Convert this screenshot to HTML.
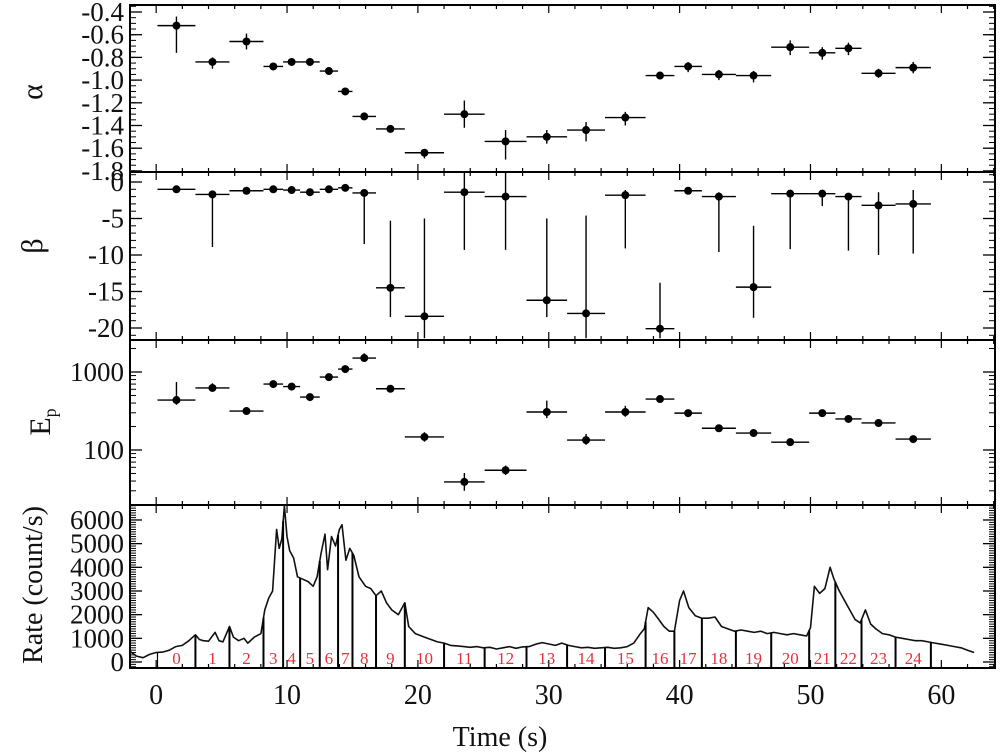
<!DOCTYPE html>
<html><head><meta charset="utf-8"><style>
html,body{margin:0;padding:0;background:#fff;}
svg{display:block;font-family:"Liberation Serif",serif;}
</style></head><body>
<svg id="chart" width="1000" height="756" viewBox="0 0 1000 756" xmlns="http://www.w3.org/2000/svg"></svg>
<script>
// ---- data ----
const binEdges = [0.1,3.0,5.6,8.2,9.7,11.0,12.5,13.9,15.0,16.8,19.0,22.0,25.1,28.3,31.4,34.3,37.4,39.6,41.7,44.3,47.0,49.9,51.9,53.9,56.5,59.2];
const alphaVals = [-0.52,-0.84,-0.66,-0.88,-0.84,-0.84,-0.92,-1.10,-1.32,-1.43,-1.64,-1.30,-1.54,-1.50,-1.44,-1.33,-0.96,-0.88,-0.95,-0.96,-0.71,-0.76,-0.72,-0.94,-0.89];
const alphaErrLo = [0.24,0.06,0.07,0.03,0.03,0.03,0.03,0.03,0.03,0.03,0.05,0.12,0.16,0.06,0.10,0.07,0.03,0.05,0.05,0.06,0.07,0.06,0.06,0.04,0.05];
const alphaErrHi = [0.08,0.04,0.07,0.03,0.03,0.03,0.03,0.03,0.03,0.03,0.03,0.12,0.10,0.06,0.07,0.05,0.03,0.04,0.04,0.04,0.06,0.05,0.05,0.04,0.05];
const betaVals = [-1.0,-1.7,-1.2,-1.0,-1.1,-1.4,-1.0,-0.8,-1.5,-14.5,-18.4,-1.4,-2.0,-16.2,-18.0,-1.8,-20.1,-1.2,-2.0,-14.4,-1.6,-1.6,-2.0,-3.2,-3.0];
const betaLow = [-1.3,-8.9,-1.5,-1.3,-1.4,-1.7,-1.3,-1.1,-8.5,-18.5,-21.4,-9.3,-9.3,-18.5,-21.4,-9.1,-21.4,-1.5,-9.6,-18.6,-9.2,-3.3,-9.4,-10.0,-9.8];
const betaHigh = [-0.7,-1.4,-0.9,-0.7,-0.8,-1.1,-0.7,-0.5,-1.2,-5.3,-5.0,1.4,1.4,-5.0,-4.6,-1.1,-13.8,-0.9,-1.4,-6.0,-1.3,-1.2,-1.6,-1.4,-1.1];
const epVals = [437,624,316,700,650,477,860,1090,1510,610,147,39,55,307,134,307,450,297,190,165,126,297,250,222,138];
const epErrLoF = [1.15,1.1,1.08,1.05,1.05,1.05,1.05,1.06,1.12,1.08,1.15,1.3,1.15,1.2,1.15,1.15,1.05,1.06,1.05,1.05,1.05,1.08,1.05,1.05,1.05];
const epErrHiF = [1.7,1.15,1.08,1.05,1.05,1.05,1.05,1.06,1.15,1.08,1.15,1.3,1.15,1.4,1.2,1.2,1.05,1.06,1.05,1.05,1.05,1.08,1.05,1.05,1.05];
const lcTimes = [-2.0,-1.5,-1.0,-0.5,0.0,0.5,1.0,1.5,2.0,2.5,3.0,3.3,3.6,4.0,4.5,4.8,5.1,5.6,5.9,6.3,6.7,7.0,7.5,8.0,8.3,8.6,8.9,9.2,9.4,9.6,9.8,10.0,10.2,10.5,10.8,11.2,11.6,12.0,12.3,12.6,12.9,13.1,13.4,13.7,14.0,14.2,14.5,14.8,15.1,15.5,16.0,16.4,16.8,17.2,17.6,18.0,18.5,19.0,19.3,19.8,20.5,21.0,21.5,22.0,22.5,23.0,23.5,24.0,24.5,25.0,25.5,26.0,26.5,27.0,27.5,28.0,28.5,29.0,29.5,30.0,30.5,31.0,31.5,32.0,32.5,33.0,33.5,34.0,34.5,35.0,35.5,36.0,36.5,37.0,37.3,37.6,38.0,38.4,38.8,39.2,39.6,40.0,40.3,40.7,41.2,41.7,42.2,42.7,43.2,43.7,44.2,44.7,45.2,45.7,46.2,46.7,47.2,47.7,48.2,48.7,49.2,49.7,50.0,50.3,50.7,51.1,51.5,51.8,52.2,52.6,53.0,53.4,53.8,54.2,54.6,55.0,55.5,56.0,56.5,57.0,57.5,58.0,58.5,59.0,59.5,60.0,60.5,61.0,61.5,62.0,62.5,63.0,63.5,64.2];
const lcRates = [450,250,180,320,400,420,500,650,700,900,1150,950,900,880,1250,900,850,1500,1050,900,1000,800,1050,1200,2200,2700,3000,5600,4800,5200,6700,5300,4700,4400,3600,3500,3400,3200,3600,4600,5400,3900,5300,4900,5600,5800,4300,4800,4500,3600,3200,3100,2800,3000,2500,2200,2000,2500,1500,1200,1050,950,850,800,700,680,650,620,650,600,620,550,600,650,580,640,650,750,820,760,700,800,700,650,600,620,580,600,620,580,600,650,800,1200,1400,2300,2100,1800,1500,1300,1300,2600,3000,2300,1950,1850,1850,1900,1500,1400,1300,1350,1300,1250,1300,1200,1250,1200,1150,1200,1150,1100,1450,3200,2900,3100,4000,3500,3000,2600,2200,1800,1650,2200,1600,1400,1200,1150,1050,1000,950,900,900,850,800,750,700,650,600,500,400];
const xTicks = [0,10,20,30,40,50,60];
const alphaTicks = [-0.4,-0.6,-0.8,-1.0,-1.2,-1.4,-1.6,-1.8];
const betaTicks = [0,-5,-10,-15,-20];
const epTicks = [1000,100];
const rateTicks = [0,1000,2000,3000,4000,5000,6000];

// ---- geometry ----
const L=130,R=995;
const P=[{t:5,b:172},{t:172,b:340},{t:340,b:505},{t:505,b:668}];
const T0=-2.0,T1=64.1;
const xs=t=>L+(t-T0)/(T1-T0)*(R-L);
const yA=v=>12+(-0.4-v)/0.2*22.7;
const yB=v=>182+(-v)*7.3;
const yE=v=>372-(Math.log10(v)-3)*78;
const yR=v=>662-v*0.02367;
const svg=document.getElementById('chart');
const NS='http://www.w3.org/2000/svg';
function mk(tag,at,parent){const e=document.createElementNS(NS,tag);for(const k in at)e.setAttribute(k,at[k]);(parent||svg).appendChild(e);return e;}
function line(x1,y1,x2,y2,w,c,p){return mk('line',{x1,y1,x2,y2,stroke:c||'#000','stroke-width':w||1.3},p);}
function txt(x,y,s,size,anchor,p){const e=mk('text',{x,y,'font-size':size,'text-anchor':anchor||'middle',fill:'#111'},p);e.textContent=s;return e;}

// frames and x ticks
P.forEach((p,i)=>{
  const g=mk('g',{});
  
  
  mk('rect',{x:L,y:p.t,width:R-L,height:p.b-p.t,fill:'none',stroke:'#000','stroke-width':2},g);
  for(let t=-2;t<=64;t+=2){
    const x=xs(t),maj=t%10===0;
    line(x,p.t,x,p.t+(maj?8:4),1.2,'#000',g);
    line(x,p.b,x,p.b-(maj?8:4),1.2,'#000',g);
  }
});
// x tick labels
const xl=mk('g',{});


xTicks.forEach(t=>txt(xs(t),704,String(t),28,'middle',xl));
const xt=txt(500,746,'Time (s)',28,'middle');



// y axis helper
function yaxis(name,ticks,fy,labels,minor,p){
  const g=mk('g',{});
  
  
  ticks.forEach((v,i)=>{const y=fy(v);line(L,y,L+12,y,1.3,'#000',g);line(R,y,R-12,y,1.3,'#000',g);txt(124,y+9,labels[i],27,'end',g);});
  minor.forEach(v=>{const y=fy(v);if(y>p.t&&y<p.b){line(L,y,L+6,y,1,'#000',g);line(R,y,R-6,y,1,'#000',g);}});
}
const aMin=[];for(let v=-0.35;v>=-1.85;v-=0.05)aMin.push(v);
yaxis('alpha-y-axis',alphaTicks,yA,['-0.4','-0.6','-0.8','-1.0','-1.2','-1.4','-1.6','-1.8'],aMin,P[0]);
const bMin=[];for(let v=1;v>=-21;v-=1)bMin.push(v);
yaxis('beta-y-axis',betaTicks,yB,['0','-5','-10','-15','-20'],bMin,P[1]);
const eMin=[];[10,100,1000].forEach(d=>{for(let k=2;k<10;k++)eMin.push(d*k);});
yaxis('ep-y-axis',epTicks,yE,['1000','100'],eMin,P[2]);
const rMin=[];for(let v=-200;v<=6600;v+=100)rMin.push(v);
yaxis('rate-y-axis',rateTicks,yR,['0','1000','2000','3000','4000','5000','6000'],rMin,P[3]);

// y titles
function ytitle(name,x,y,s,rot){const e=txt(x,y,s,30,'middle');if(rot)e.setAttribute('transform','rotate(-90 '+x+' '+y+')');return e;}
ytitle('alpha-y-axis-title',42,92,'α',true);
ytitle('beta-y-axis-title',42,246,'β',true);
const ep=ytitle('ep-y-axis-title',50,422,'E',true);
const sub=mk('tspan',{'font-size':18,dy:6});sub.textContent='p';ep.appendChild(sub);
const rt=ytitle('rate-y-axis-title',42,585,'Rate (count/s)',true);rt.setAttribute('font-size','28');

// error-bar series
function series(name,vals,lo,hi,fy){
  const g=mk('g',{});
  
  
  vals.forEach((v,i)=>{
    const t0=binEdges[i],t1=binEdges[i+1],tc=(t0+t1)/2;
    const x=xs(tc),y=fy(v);
    line(xs(t0),y,xs(t1),y,1.4,'#000',g);
    line(x,fy(lo[i]),x,fy(hi[i]),1.4,'#000',g);
    const c=mk('circle',{cx:x,cy:y,r:4,fill:'#000'},g);
    
    
  });
}
series('alpha-series',alphaVals,alphaVals.map((v,i)=>v-alphaErrLo[i]),alphaVals.map((v,i)=>v+alphaErrHi[i]),yA);
series('beta-series',betaVals,betaLow,betaHigh,yB);
series('ep-series',epVals,epVals.map((v,i)=>v/epErrLoF[i]),epVals.map((v,i)=>v*epErrHiF[i]),yE);

// light curve
function rateAt(t){for(let i=0;i<lcTimes.length-1;i++){if(t>=lcTimes[i]&&t<=lcTimes[i+1]){const f=(t-lcTimes[i])/(lcTimes[i+1]-lcTimes[i]);return lcRates[i]+f*(lcRates[i+1]-lcRates[i]);}}return lcRates[lcRates.length-1];}
const lc=mk('g',{});


let d='';
lcTimes.forEach((t,i)=>{d+=(i?'L':'M')+xs(Math.max(t,T0)).toFixed(1)+','+Math.max(yR(lcRates[i]),506).toFixed(1);});
mk('path',{d,fill:'none',stroke:'#111','stroke-width':1.6,'stroke-linejoin':'round'},lc);
binEdges.forEach((t,i)=>{
  if(i===0)return;
  const l=line(xs(t),P[3].b,xs(t),yR(rateAt(t)),2,'#000',lc);
  
  
});
line(xs(binEdges[0]),P[3].b,xs(binEdges[0]),yR(rateAt(binEdges[0])),1.2,'#000',lc);
for(let i=0;i<binEdges.length-1;i++){
  const lb=mk('text',{x:xs((binEdges[i]+binEdges[i+1])/2),y:664,'font-size':17,'text-anchor':'middle',fill:'#e8303a'},lc);
  lb.textContent=String(i);
  
  
}
</script>
</body></html>
